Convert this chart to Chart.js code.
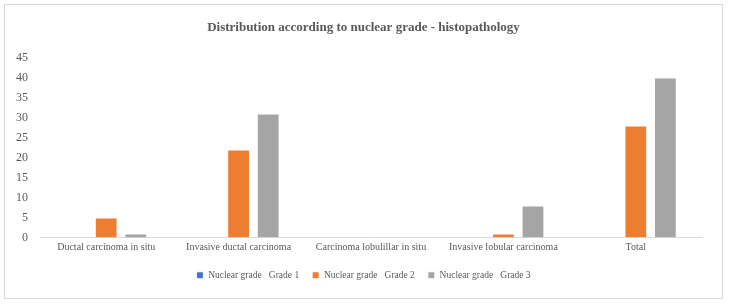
<!DOCTYPE html>
<html>
<head>
<meta charset="utf-8">
<script src="https://cdn.jsdelivr.net/npm/chart.js@4"></script>
<style>
  body { margin: 0; background: #fff; }
  #wrap {
    position: absolute; left: 4px; top: 4px;
    width: 717px; height: 293px;
    border: 1px solid #d9d9d9;
  }
</style>
</head>
<body>
<div id="wrap"><canvas id="gradeChart"></canvas></div>
<script>
'use strict';

// Kategorien und Werte
const categories = [
  'Ductal carcinoma in situ',
  'Invasive ductal carcinoma',
  'Carcinoma lobulillar in situ',
  'Invasive lobular carcinoma',
  'Total',
];
const grade1 = [0, 0, 0, 0, 0];
const grade2 = [5, 22, 0, 1, 28];
const grade3 = [1, 31, 0, 8, 40];
const yTicks = [0, 5, 10, 15, 20, 25, 30, 35, 40, 45];

const textColor = '#595959';
const serif = "'Liberation Serif', 'Times New Roman', serif";

const makeSet = (label, data, color) => ({
  label,
  data,
  backgroundColor: color,
  borderColor: '#ffffff',
  borderWidth: 1,
  barPercentage: 0.77,
  categoryPercentage: 0.67,
});

const ctx = document.getElementById('gradeChart').getContext('2d');
new Chart(ctx, {
  type: 'bar',
  data: {
    labels: categories,
    datasets: [
      makeSet('Nuclear grade   Grade 1', grade1, '#4472C4'),
      makeSet('Nuclear grade   Grade 2', grade2, '#ED7D31'),
      makeSet('Nuclear grade   Grade 3', grade3, '#A5A5A5'),
    ],
  },
  options: {
    responsive: true,
    maintainAspectRatio: false,
    animation: false,
    layout: { padding: { left: 0, right: 0, bottom: 8 } },
    plugins: {
      title: {
        display: true,
        text: 'Distribution according to nuclear grade - histopathology',
        color: textColor,
        font: { family: serif, size: 13, weight: 'bold' },
        padding: { top: 15, bottom: 22 },
      },
      legend: {
        position: 'bottom',
        labels: {
          color: textColor,
          font: { family: serif, size: 9.5 },
          boxWidth: 7,
          boxHeight: 7,
          padding: 13,
        },
      },
      tooltip: { enabled: false },
    },
    scales: {
      x: {
        grid: { display: false, drawTicks: false },
        border: { color: '#d9d9d9' },
        ticks: {
          color: textColor,
          font: { family: serif, size: 10 },
          padding: 4,
          maxRotation: 0,
          autoSkip: false,
        },
      },
      y: {
        min: 0,
        max: 45,
        afterBuildTicks: scale => {
          scale.ticks = yTicks.map(v => ({ value: v }));
        },
        afterFit: scale => {
          scale.width = 35;
        },
        grid: { display: false, drawTicks: false },
        border: { display: false },
        ticks: {
          color: textColor,
          font: { family: serif, size: 12 },
          padding: 12,
        },
      },
      // leere Achse rechts, nur als Abstand
      yRight: {
        position: 'right',
        min: 0,
        max: 1,
        afterFit: scale => {
          scale.width = 20;
        },
        grid: { display: false, drawTicks: false },
        border: { display: false },
        ticks: { display: false },
      },
    },
  },
});
</script>
</body>
</html>
